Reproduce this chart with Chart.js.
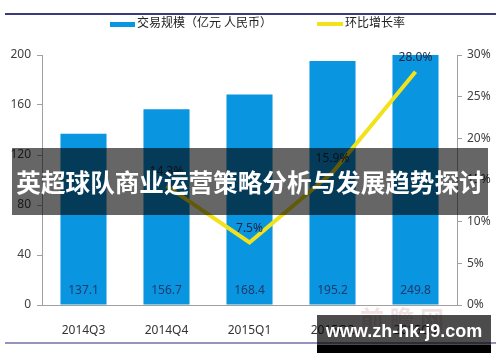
<!DOCTYPE html>
<html>
<head>
<meta charset="utf-8">
<script src="https://cdn.jsdelivr.net/npm/chart.js@4/dist/chart.umd.min.js"></script>
<style>
body{margin:0;background:#fff;}
#wrap{position:relative;width:500px;height:362px;overflow:hidden;}
#c{position:absolute;left:0;top:0;}
.wm{position:absolute;color:rgba(200,150,150,0.28);font:bold 24px 'Noto Sans CJK SC',sans-serif;left:360px;top:300px;letter-spacing:6px;}
.band{position:absolute;left:12px;top:148px;width:476px;height:67px;background:rgba(0,0,0,0.6);color:#fff;font:bold 24.6px 'Noto Sans CJK SC',sans-serif;line-height:67px;text-align:center;white-space:nowrap;}
.site{position:absolute;left:317px;top:315px;width:174px;height:30px;background:rgba(0,0,0,0.7);border-bottom:8px solid #000;color:#fff;font:bold 18px 'Liberation Sans',Arial,sans-serif;line-height:32px;text-align:center;white-space:nowrap;}
</style>
</head>
<body>
<div id="wrap">
<canvas id="c" width="500" height="362"></canvas>
<div class="wm">前瞻网</div>
<div class="band">英超球队商业运营策略分析与发展趋势探讨</div>
<div class="site">www.zh-hk-j9.com</div>
</div>
<script>
const quarters=['2014Q3','2014Q4','2015Q1','2015Q2','2015Q3'];
const volume=[137.1,156.7,168.4,195.2,249.8];
const growth=[null,14.3,7.5,15.9,28.0];
const leftTicks=[0,40,80,120,160,200];
const rightTicks=[0,5,10,15,20,25,30];
const seriesNames=['交易规模（亿元 人民币）','环比增长率'];

const FONT="'Noto Sans','Noto Sans CJK SC',sans-serif";
const BLUE='#0995df', YELLOW='#f2e21c';

// legend, frame lines and value labels
const extras={
  id:'extras',
  afterDraw(chart){
    const ctx=chart.ctx;
    ctx.save();
    ctx.strokeStyle='#3b3b7c';ctx.lineWidth=2;
    ctx.beginPath();ctx.moveTo(5,14);ctx.lineTo(496,14);ctx.stroke();
    ctx.strokeStyle='#7070a8';ctx.lineWidth=1.5;
    ctx.beginPath();ctx.moveTo(5,343);ctx.lineTo(496,343);ctx.stroke();
    // legend
    ctx.font='12px '+FONT;ctx.textBaseline='middle';ctx.textAlign='left';
    ctx.fillStyle=BLUE;ctx.fillRect(110,22,25,5);
    ctx.fillStyle='#222';ctx.fillText(seriesNames[0],137,24);
    ctx.strokeStyle=YELLOW;ctx.lineWidth=4;
    ctx.beginPath();ctx.moveTo(317,24);ctx.lineTo(343,24);ctx.stroke();
    ctx.fillText(seriesNames[1],345,24);
    // bar labels
    const y0=chart.scales.y.getPixelForValue(0);
    ctx.textAlign='center';ctx.fillStyle='#1d3a6c';
    chart.getDatasetMeta(1).data.forEach((b,i)=>{
      ctx.fillText(volume[i].toFixed(1),b.x,y0-14);
    });
    // line labels
    ctx.fillStyle='#1a2642';
    chart.getDatasetMeta(0).data.forEach((p,i)=>{
      if(growth[i]==null)return;
      ctx.fillText(growth[i].toFixed(1)+'%',p.x,p.y-14);
    });
    ctx.restore();
  }
};

new Chart(document.getElementById('c'),{
  data:{
    labels:quarters,
    datasets:[
      {type:'line',label:seriesNames[1],data:growth,yAxisID:'y1',borderColor:YELLOW,borderWidth:4,pointRadius:0,tension:0,spanGaps:false},
      {type:'bar',label:seriesNames[0],data:volume,yAxisID:'y',backgroundColor:BLUE,barPercentage:0.555,categoryPercentage:1}
    ]
  },
  options:{
    responsive:false,animation:false,
    layout:{padding:{top:55,left:0,right:0,bottom:0}},
    plugins:{legend:{display:false},tooltip:{enabled:false}},
    scales:{
      x:{
        grid:{display:false},
        border:{color:'#a0a0a0'},
        ticks:{color:'#333',font:{family:FONT,size:12},padding:10},
        afterFit(s){s.height=57;}
      },
      y:{
        position:'left',min:0,max:200,
        afterBuildTicks(s){s.ticks=leftTicks.map(v=>({value:v}));},
        grid:{drawOnChartArea:false,tickLength:5,color:'#a0a0a0'},
        border:{color:'#a0a0a0'},
        ticks:{color:'#404040',font:{family:FONT,size:12},padding:6},
        afterFit(s){s.width=42;}
      },
      y1:{
        position:'right',min:0,max:30,
        afterBuildTicks(s){s.ticks=rightTicks.map(v=>({value:v}));},
        grid:{drawOnChartArea:false,tickLength:5,color:'#a0a0a0'},
        border:{color:'#a0a0a0'},
        ticks:{color:'#404040',font:{family:FONT,size:12},padding:5,callback:v=>v+'%'},
        afterFit(s){s.width=43;}
      }
    }
  },
  plugins:[extras]
});
</script>
</body>
</html>
